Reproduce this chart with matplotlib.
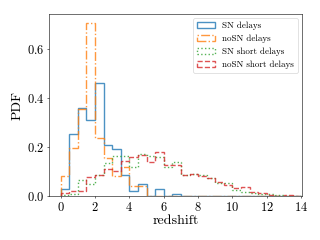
import numpy as np
import matplotlib
matplotlib.use('Agg')
import matplotlib.pyplot as plt

plt.rcParams['font.family'] = 'serif'
plt.rcParams['font.serif'] = ['cmr10']
plt.rcParams['mathtext.fontset'] = 'cm'
plt.rcParams['axes.formatter.use_mathtext'] = True

# histogram bins (redshift), width 0.5
edges = np.arange(0, 14.01, 0.5)

# bin heights
sn_delays = [0.03, 0.255, 0.36, 0.31, 0.46, 0.21, 0.19, 0.085, 0.02, 0.048,
             0.0, 0.03, 0.0, 0.01, 0, 0, 0, 0, 0, 0, 0, 0, 0, 0, 0, 0, 0, 0]
nosn_delays = [0.08, 0.195, 0.355, 0.705, 0.235, 0.155, 0.08, 0.12, 0.04, 0.04,
               0, 0, 0, 0, 0, 0, 0, 0, 0, 0, 0, 0, 0, 0, 0, 0, 0, 0]
sn_short = [0.003, 0.01, 0.065, 0.05, 0.085, 0.135, 0.165, 0.165, 0.12, 0.17,
            0.165, 0.16, 0.12, 0.137, 0.086, 0.092, 0.085, 0.072, 0.055, 0.055,
            0.025, 0.016, 0.013, 0.008, 0.007, 0.004, 0.001, 0]
nosn_short = [0.011, 0.02, 0.02, 0.076, 0.086, 0.109, 0.103, 0.144, 0.16, 0.166,
              0.137, 0.18, 0.125, 0.125, 0.088, 0.092, 0.083, 0.072, 0.058, 0.045,
              0.031, 0.035, 0.015, 0.011, 0.003, 0.001, 0.005, 0]

labels = ['SN delays', 'noSN delays', 'SN short delays', 'noSN short delays']
styles = ['-', '-.', ':', '--']
colors = ['C0', 'C1', 'C2', 'C3']

centers = 0.5 * (edges[:-1] + edges[1:])

fig = plt.figure(figsize=(6.4, 4.8), dpi=50)
ax = fig.add_axes([0.153, 0.183, 0.791, 0.759])

for vals, lab, ls, c in zip([sn_delays, nosn_delays, sn_short, nosn_short], labels, styles, colors):
    ax.hist(centers, bins=edges, weights=vals, histtype='step', ls=ls, color=c,
            lw=2, alpha=0.8, label=lab)

ax.set_xlim(-0.68, 14.05)
ax.set_ylim(0, 0.743)
ax.set_xticks([0, 2, 4, 6, 8, 10, 12, 14])
ax.set_yticks([0.0, 0.2, 0.4, 0.6])
ax.tick_params(labelsize=18)
ax.set_xlabel('redshift', fontsize=20, labelpad=2)
ax.set_ylabel('PDF', fontsize=20)
ax.legend(loc='upper right', fontsize=13)

fig.savefig('out.png', dpi=50)
